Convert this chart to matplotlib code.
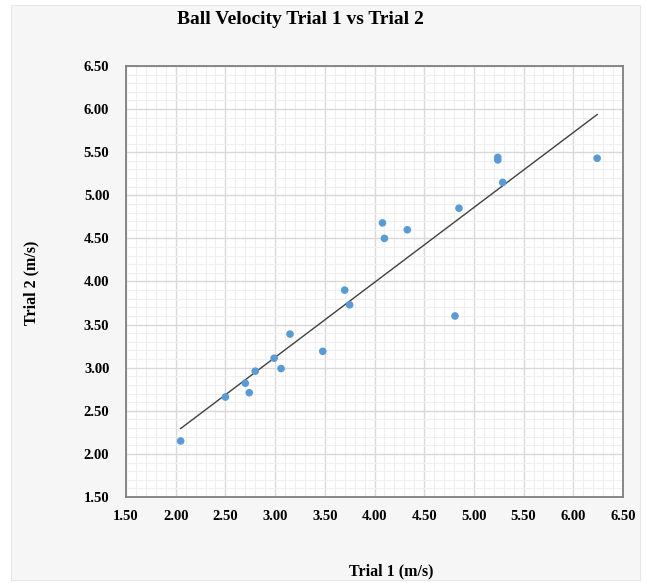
import numpy as np
import matplotlib
matplotlib.use("Agg")
import matplotlib.pyplot as plt
from matplotlib.patches import Rectangle
from matplotlib.ticker import MultipleLocator, FormatStrFormatter

title = "Ball Velocity Trial 1 vs Trial 2"
x_label = "Trial 1 (m/s)"
y_label = "Trial 2 (m/s)"

trial1 = [2.05, 2.50, 2.70, 2.74, 2.80, 2.99, 3.06, 3.15, 3.48, 3.70,
          3.75, 4.08, 4.10, 4.33, 4.81, 4.85, 5.24, 5.24, 5.29, 6.24]
trial2 = [2.15, 2.66, 2.82, 2.71, 2.96, 3.11, 2.99, 3.39, 3.19, 3.90,
          3.73, 4.68, 4.50, 4.60, 3.60, 4.85, 5.44, 5.41, 5.15, 5.43]

plt.rcParams['font.family'] = ['Liberation Serif', 'DejaVu Serif']

fig = plt.figure(figsize=(6.47, 5.83), dpi=100, facecolor='white')
fig.patches.append(Rectangle((11/647, 1-580/583), 629/647, 575/583,
                             transform=fig.transFigure, facecolor='#f6f6f6',
                             edgecolor='#e6e6e6', linewidth=0.8, zorder=-10))

ax = fig.add_axes([126/647, 1-497/583, 497/647, 431/583])
ax.set_facecolor('white')

x = np.array(trial1)
y = np.array(trial2)
m, b = np.polyfit(x, y, 1)
xs = np.array([x.min(), x.max()])
ax.plot(xs, m*xs + b, color='#404040', linewidth=1.0, zorder=3)
ax.scatter(x, y, s=30, color='#5B9BD5', edgecolors='none', zorder=4)

ax.set_xlim(1.5, 6.5)
ax.set_ylim(1.5, 6.5)
ax.xaxis.set_major_locator(MultipleLocator(0.5))
ax.yaxis.set_major_locator(MultipleLocator(0.5))
ax.xaxis.set_minor_locator(MultipleLocator(0.1))
ax.yaxis.set_minor_locator(MultipleLocator(0.1))
ax.xaxis.set_major_formatter(FormatStrFormatter('%.2f'))
ax.yaxis.set_major_formatter(FormatStrFormatter('%.2f'))
ax.grid(which='major', color='#d9d9d9', linewidth=1.0)
ax.grid(which='minor', color='#efefef', linewidth=0.8)
ax.set_axisbelow(True)
ax.tick_params(which='both', length=0)
ax.tick_params(axis='x', pad=9, labelsize=10.5)
ax.tick_params(axis='y', pad=12, labelsize=10.5)
for lab in ax.get_xticklabels() + ax.get_yticklabels():
    lab.set_fontweight('bold')
for s in ax.spines.values():
    s.set_color('#7f7f7f')
    s.set_linewidth(1.3)

fig.text(300/647, 1-19/583, title, ha='center', va='center',
         fontsize=14, fontweight='bold')
fig.text(391/647, 1-571/583, x_label, ha='center', va='center',
         fontsize=11.5, fontweight='bold')
fig.text(31/647, 1-283/583, y_label, ha='center', va='center',
         fontsize=11.5, fontweight='bold', rotation=90)

fig.savefig('out.png', dpi=100, facecolor='white')
